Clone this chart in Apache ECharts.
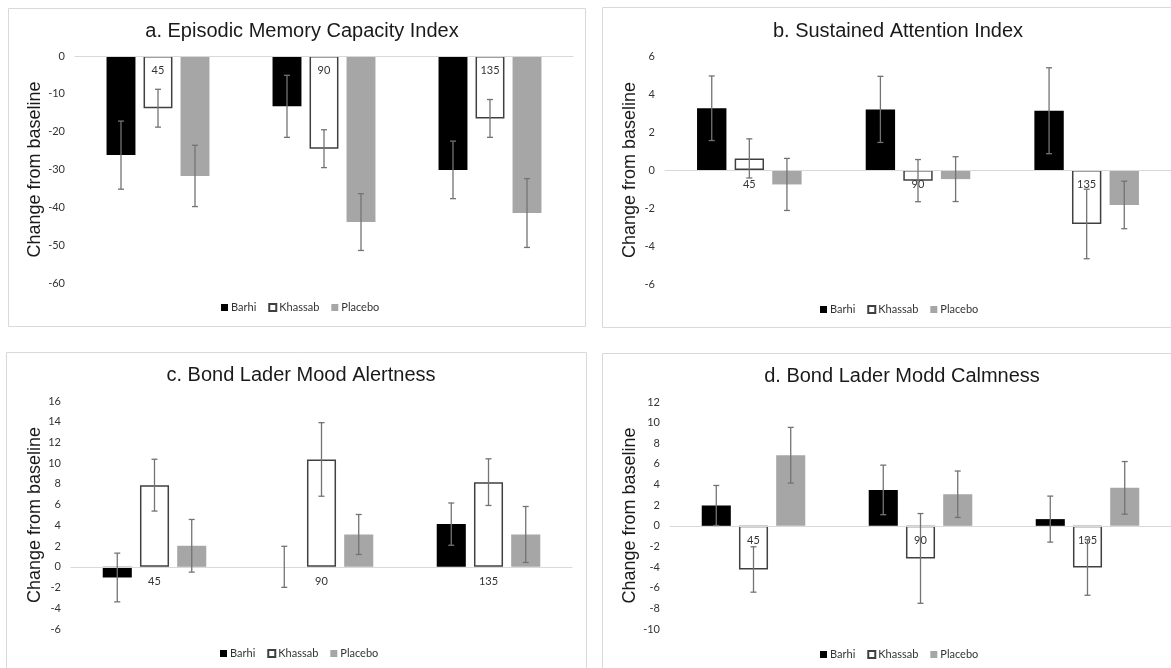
<!DOCTYPE html>
<html>
<head>
<meta charset="utf-8">
<script src="https://cdn.jsdelivr.net/npm/echarts@6/dist/echarts.min.js"></script>
<style>html,body{margin:0;padding:0;background:#fff}#c{width:1171px;height:668px}</style>
</head>
<body>
<div id="c"></div>
<script>
// ---- data ----
const categories = ['45', '90', '135'];
const seriesNames = ['Barhi', 'Khassab', 'Placebo'];

const titles = ['a. Episodic Memory Capacity Index', 'b. Sustained Attention Index', 'c. Bond Lader Mood Alertness', 'd. Bond Lader Modd Calmness'];
const yAxisName = 'Change from baseline';

// panel a
const aBarhi = [-26.2, -13.3, -30.1];
const aKhassab = [-13.8, -24.5, -16.5];
const aPlacebo = [-31.7, -43.9, -41.5];
const aBarhiErr = [9.0, 8.2, 7.6];
const aKhassabErr = [5.0, 5.0, 5.0];
const aPlaceboErr = [8.1, 7.5, 9.1];

// panel b
const bBarhi = [3.25, 3.19, 3.12];
const bKhassab = [0.61, -0.56, -2.84];
const bPlacebo = [-0.76, -0.48, -1.84];
const bBarhiErr = [1.7, 1.74, 2.26];
const bKhassabErr = [1.03, 1.11, 1.83];
const bPlaceboErr = [1.37, 1.18, 1.25];

// panel c
const cBarhi = [-1.03, 0, 4.12];
const cKhassab = [7.88, 10.36, 8.17];
const cPlacebo = [2.03, 3.12, 3.12];
const cBarhiErr = [2.35, 1.98, 2.04];
const cKhassabErr = [2.5, 3.55, 2.25];
const cPlaceboErr = [2.54, 1.93, 2.7];

// panel d
const dBarhi = [1.97, 3.48, 0.65];
const dKhassab = [-4.23, -3.16, -4.03];
const dPlacebo = [6.84, 3.06, 3.68];
const dBarhiErr = [1.94, 2.4, 2.23];
const dKhassabErr = [2.2, 4.35, 2.7];
const dPlaceboErr = [2.7, 2.25, 2.55];

// y-axis ranges
const yMin = [-60, -6, -6, -10];
const yMax = [0, 6, 16, 12];
const yInterval = [10, 2, 2, 2];

// ---- layout / style ----
const panels = [
  {means: [aBarhi, aKhassab, aPlacebo], errs: [aBarhiErr, aKhassabErr, aPlaceboErr]},
  {means: [bBarhi, bKhassab, bPlacebo], errs: [bBarhiErr, bKhassabErr, bPlaceboErr]},
  {means: [cBarhi, cKhassab, cPlacebo], errs: [cBarhiErr, cKhassabErr, cPlaceboErr]},
  {means: [dBarhi, dKhassab, dPlacebo], errs: [dBarhiErr, dKhassabErr, dPlaceboErr]}
];
const grids = [
  {left: 75, top: 56, width: 498, height: 227},
  {left: 665, top: 56, width: 511, height: 228},
  {left: 71, top: 401, width: 501, height: 228},
  {left: 670, top: 402, width: 508, height: 227}
];
const titlePos = [[297, 16], [893, 16], [296, 360], [897, 361]];
const legendPos = [[216, 297], [815, 299], [215, 643], [815, 644]];
const nameGaps = [28, 26, 27, 29];
const boxes = [[8, 8, 577, 318], [602, 7, 590, 320], [6, 352, 580, 340], [602, 353, 590, 340]];

const barStyles = [
  {color: '#000000'},
  {color: '#ffffff', borderColor: '#404040', borderWidth: 1.5},
  {color: '#a6a6a6'}
];
const CAT_GAP = 0.38, BAR_GAP = 0.28;
const barW = (1 - CAT_GAP) / (3 + 2 * BAR_GAP);
const step = barW * (1 + BAR_GAP);

const tickFont = 'Lato, "Open Sans", sans-serif';

const option = {
  animation: false,
  backgroundColor: '#fff',
  graphic: boxes.map(b => ({
    type: 'rect', shape: {x: b[0] + 0.5, y: b[1] + 0.5, width: b[2], height: b[3]},
    style: {fill: 'none', stroke: '#d9d9d9', lineWidth: 1}, silent: true, z: -10
  })),
  title: titles.map((t, i) => ({
    text: t, left: titlePos[i][0], top: titlePos[i][1], textAlign: 'center',
    textStyle: {fontFamily: '"Liberation Sans", Arial, sans-serif', fontSize: 20, fontWeight: 'normal', color: '#1a1a1a'}
  })),
  legend: legendPos.map(p => ({
    data: seriesNames, left: p[0], top: p[1], icon: 'rect', itemWidth: 7, itemHeight: 7, itemGap: 12,
    textStyle: {fontFamily: tickFont, fontSize: 11, color: '#333333', padding: [0, 0, 0, -2]},
    selectedMode: false
  })),
  grid: grids.map(g => Object.assign({containLabel: false}, g)),
  xAxis: grids.map((g, i) => ({
    type: 'category', gridIndex: i, data: categories, z: 10,
    axisLine: {onZero: true, lineStyle: {color: '#d9d9d9', width: 1}},
    axisTick: {show: false},
    axisLabel: {show: false}
  })),
  yAxis: grids.map((g, i) => ({
    type: 'value', gridIndex: i, min: yMin[i], max: yMax[i], interval: yInterval[i],
    name: yAxisName, nameLocation: 'middle', nameGap: nameGaps[i],
    nameTextStyle: {fontFamily: '"Liberation Sans", Arial, sans-serif', fontSize: 18, color: '#1a1a1a'},
    axisLine: {show: false}, axisTick: {show: false}, splitLine: {show: false},
    axisLabel: {fontFamily: tickFont, fontSize: 11, color: '#333333', margin: 10}
  })),
  series: []
};

panels.forEach((p, pi) => {
  p.means.forEach((m, si) => {
    option.series.push({
      type: 'bar', name: seriesNames[si], xAxisIndex: pi, yAxisIndex: pi,
      data: m, itemStyle: barStyles[si],
      barCategoryGap: (CAT_GAP * 100) + '%', barGap: (BAR_GAP * 100) + '%',
      emphasis: {disabled: true}, z: 2
    });
  });
  const errData = [];
  p.means.forEach((m, si) => m.forEach((v, ci) => errData.push([ci, v, p.errs[si][ci], si])));
  option.series.push({
    type: 'custom', name: 'err' + pi, xAxisIndex: pi, yAxisIndex: pi, z: 20,
    data: errData, encode: {x: 0, y: 1},
    renderItem: function (params, api) {
      const ci = api.value(0), v = api.value(1), e = api.value(2), si = api.value(3);
      const band = api.size([1, 0])[0];
      const cx = api.coord([ci, v])[0] + (si - 1) * step * band;
      const yTop = api.coord([ci, v + e])[1];
      const yBot = api.coord([ci, v - e])[1];
      const cap = 3;
      const st = {stroke: '#737373', lineWidth: 1.3};
      return {type: 'group', children: [
        {type: 'line', shape: {x1: cx, y1: yTop, x2: cx, y2: yBot}, style: st},
        {type: 'line', shape: {x1: cx - cap, y1: yTop, x2: cx + cap, y2: yTop}, style: st},
        {type: 'line', shape: {x1: cx - cap, y1: yBot, x2: cx + cap, y2: yBot}, style: st}
      ]};
    }
  });
  // category labels drawn at the zero line
  option.series.push({
    type: 'custom', name: 'cat' + pi, xAxisIndex: pi, yAxisIndex: pi, z: 15,
    data: categories.map((c, ci) => [ci, 0]), encode: {x: 0, y: 1},
    renderItem: function (params, api) {
      const pt = api.coord([api.value(0), 0]);
      return {type: 'text', x: pt[0], y: pt[1] + 9, style: {
        text: categories[params.dataIndex], align: 'center', verticalAlign: 'top',
        font: '11px ' + tickFont, fill: '#333333'
      }};
    }
  });
});

const chart = echarts.init(document.getElementById('c'), null, {renderer: 'canvas'});
chart.setOption(option);
</script>
</body>
</html>
